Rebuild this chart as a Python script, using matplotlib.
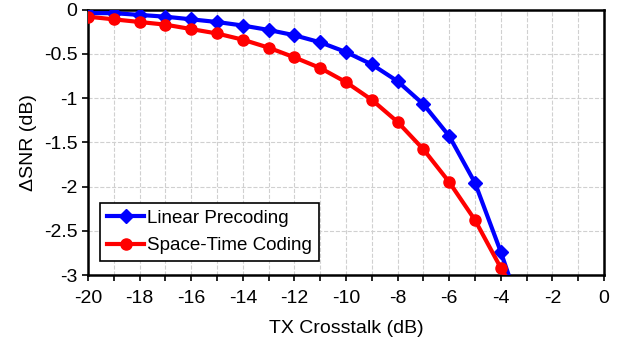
import matplotlib
matplotlib.use("Agg")
import matplotlib.pyplot as plt
from matplotlib.ticker import MultipleLocator

plt.rcParams['font.family'] = ['Liberation Sans', 'DejaVu Sans']

# TX crosstalk (dB)
crosstalk = [-20, -19, -18, -17, -16, -15, -14, -13, -12, -11, -10,
             -9, -8, -7, -6, -5, -4, -3]
# delta SNR (dB), last point falls below the plot window
linear_precoding = [-0.04, -0.04, -0.06, -0.08, -0.11, -0.14, -0.18, -0.23, -0.29,
                    -0.37, -0.48, -0.62, -0.81, -1.07, -1.43, -1.96, -2.74, -3.6]
space_time_coding = [-0.08, -0.11, -0.14, -0.17, -0.22, -0.27, -0.34, -0.43, -0.54,
                     -0.66, -0.82, -1.02, -1.27, -1.58, -1.95, -2.38, -2.92, -3.4]

fig = plt.figure(figsize=(6.26, 3.43), dpi=100)
ax = fig.add_axes([0.1406, 0.198, 0.8244, 0.774])

ax.plot(crosstalk, linear_precoding, color='#0000ff', lw=3, marker='D',
        markersize=7, label='Linear Precoding', zorder=3)
ax.plot(crosstalk, space_time_coding, color='#ff0000', lw=3, marker='o',
        markersize=8, label='Space-Time Coding', zorder=3)

ax.set_xlim(-20, 0)
ax.set_ylim(-3, 0)
ax.xaxis.set_minor_locator(MultipleLocator(1))
ax.set_yticks([0, -0.5, -1, -1.5, -2, -2.5, -3])
ax.set_yticklabels(['0', '-0.5', '-1', '-1.5', '-2', '-2.5', '-3'])
ax.set_xticks(range(-20, 1, 2))
ax.set_xticklabels([str(v) for v in range(-20, 1, 2)])

ax.grid(which='both', axis='x', color='#d0d0d0', ls='--', lw=0.8)
ax.grid(which='major', axis='y', color='#d0d0d0', ls='--', lw=0.8)
ax.set_axisbelow(True)

for s in ax.spines.values():
    s.set_linewidth(1.8)
    s.set_color('black')

ax.tick_params(which='both', direction='out', length=4, width=1.2,
               labelsize=14, colors='black')
ax.tick_params(axis='x', pad=7)

ax.set_xlabel('TX Crosstalk (dB)', fontsize=14, labelpad=9)
ax.set_ylabel('ΔSNR (dB)', fontsize=14, labelpad=5)

leg = ax.legend(loc='lower left', bbox_to_anchor=(0.024, 0.053), fontsize=13.5,
                frameon=True, fancybox=False, edgecolor='black', framealpha=1,
                handlelength=2.0, handletextpad=0.15, borderpad=0.35,
                labelspacing=0.55, borderaxespad=0)
leg.get_frame().set_linewidth(1.2)

fig.savefig('out.png', dpi=100)
